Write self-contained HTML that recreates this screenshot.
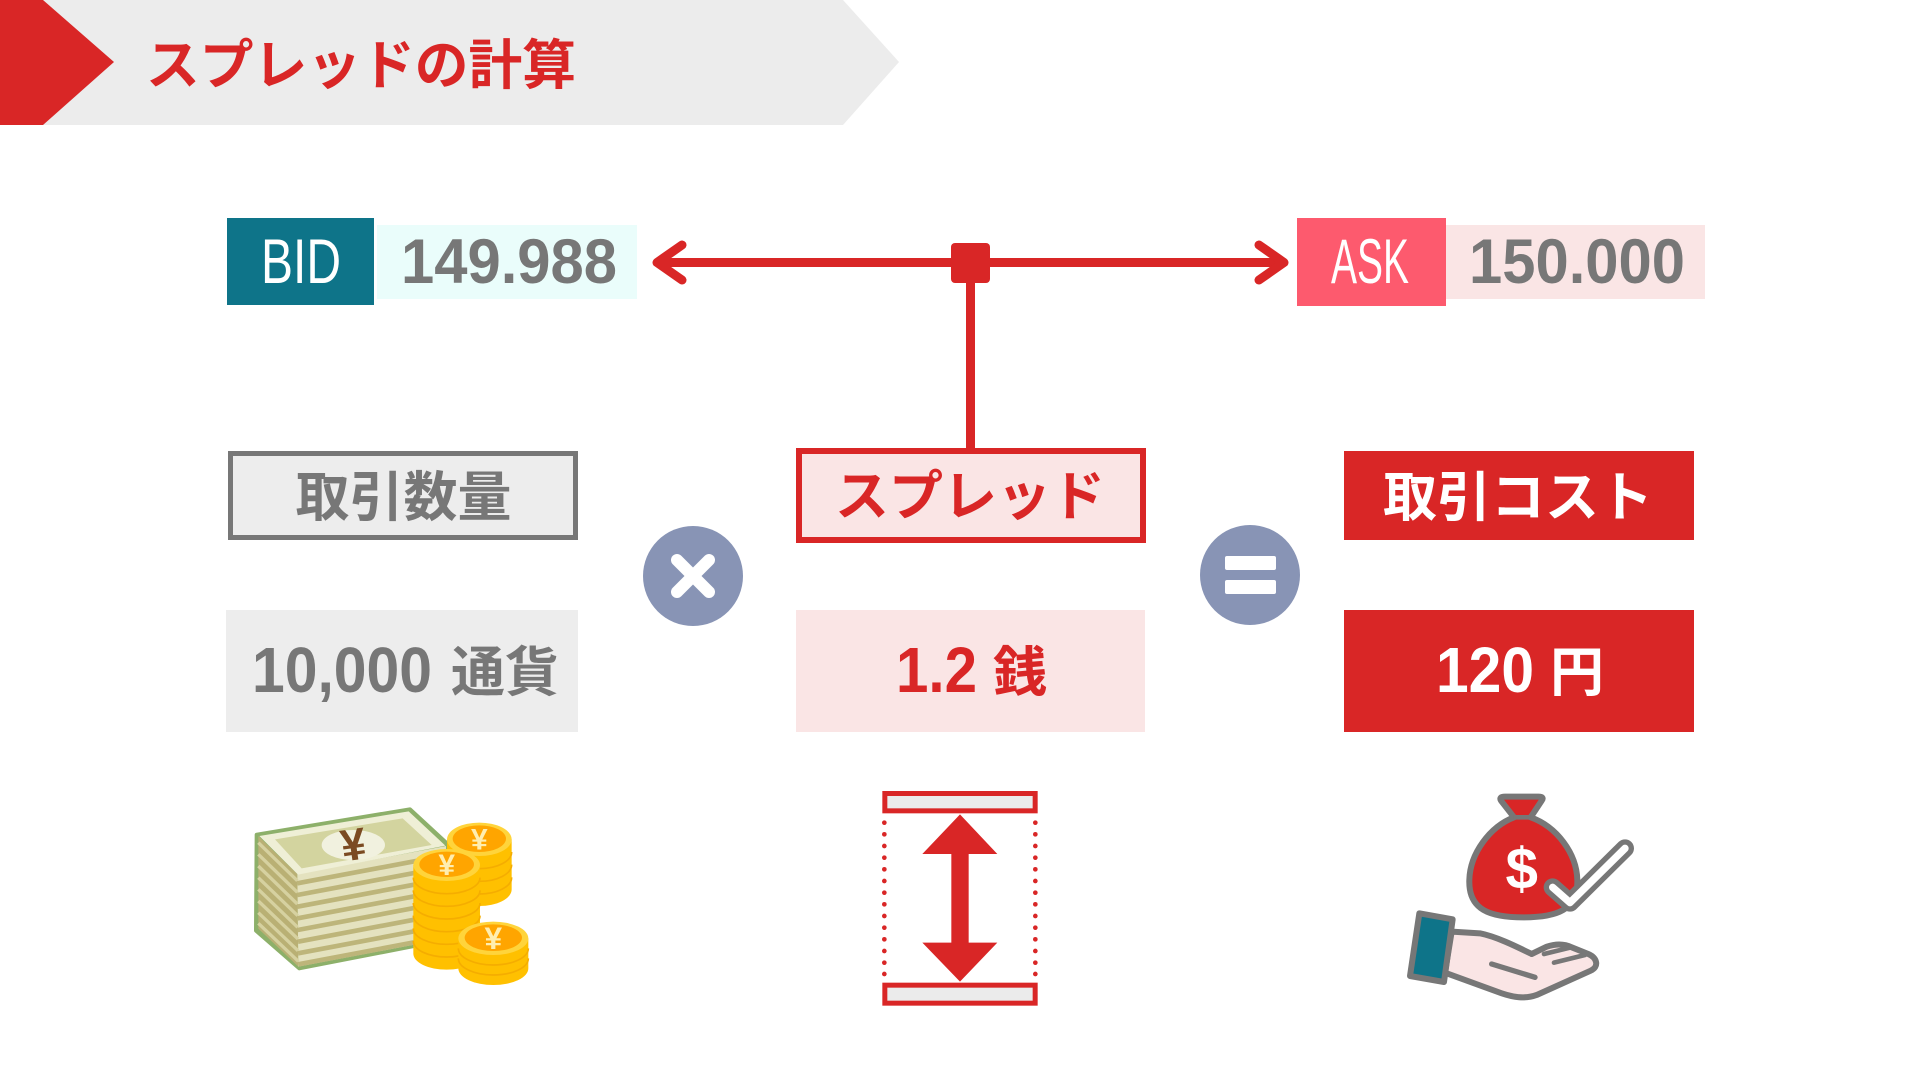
<!DOCTYPE html>
<html><head><meta charset="utf-8"><style>
html,body{margin:0;padding:0;background:#fff;width:1920px;height:1080px;overflow:hidden}
svg{display:block}
text{font-family:"Liberation Sans","Noto Sans CJK JP",sans-serif}
.jp{font-family:"Liberation Sans","Noto Sans CJK JP",sans-serif;font-weight:700}
</style></head><body>
<svg width="1920" height="1080" viewBox="0 0 1920 1080" xmlns="http://www.w3.org/2000/svg">
<!-- header -->
<polygon points="0,0 843,0 899,62 843,125 0,125" fill="#ececec"/>
<polygon points="0,0 43,0 114,62 43,125 0,125" fill="#d92626"/>
<text class="jp" x="146" y="84" font-size="54" fill="#d92626" textLength="430" lengthAdjust="spacingAndGlyphs">スプレッドの計算</text>

<!-- BID -->
<rect x="227" y="218" width="147" height="87" fill="#0e7489"/>
<text x="301" y="283" font-size="63" fill="#fff" text-anchor="middle" textLength="80" lengthAdjust="spacingAndGlyphs">BID</text>
<rect x="377" y="225" width="260" height="74" fill="#eafdfb"/>
<text x="509" y="283" font-size="63" font-weight="700" fill="#777" text-anchor="middle" textLength="216" lengthAdjust="spacingAndGlyphs">149.988</text>

<!-- ASK -->
<rect x="1297" y="218" width="149" height="88" fill="#fd5a6e"/>
<text x="1370" y="283" font-size="63" fill="#fff" text-anchor="middle" textLength="78" lengthAdjust="spacingAndGlyphs">ASK</text>
<rect x="1446" y="225" width="259" height="74" fill="#fae5e5"/>
<text x="1577" y="283" font-size="63" font-weight="700" fill="#777" text-anchor="middle" textLength="216" lengthAdjust="spacingAndGlyphs">150.000</text>

<!-- connectors -->
<line x1="660" y1="262.5" x2="1281" y2="262.5" stroke="#d92626" stroke-width="9"/>
<polyline points="682,245 657,262.5 682,280" fill="none" stroke="#d92626" stroke-width="9" stroke-linecap="round" stroke-linejoin="round"/>
<polyline points="1259,245 1284,262.5 1259,280" fill="none" stroke="#d92626" stroke-width="9" stroke-linecap="round" stroke-linejoin="round"/>
<line x1="970.5" y1="280" x2="970.5" y2="450" stroke="#d92626" stroke-width="9"/>
<rect x="951" y="243" width="39" height="40" rx="4" fill="#d92626"/>

<!-- row 1 boxes -->
<rect x="230.5" y="453.5" width="345" height="84" fill="#ededed" stroke="#777" stroke-width="5"/>
<text class="jp" x="403.5" y="516" font-size="54" fill="#777" text-anchor="middle">取引数量</text>

<rect x="799" y="451" width="344" height="89" fill="#fae5e5" stroke="#d92626" stroke-width="6"/>
<text class="jp" x="970" y="515" font-size="54" fill="#d92626" text-anchor="middle">スプレッド</text>

<rect x="1344" y="451" width="350" height="89" fill="#d92626"/>
<text class="jp" x="1518" y="516" font-size="54" fill="#fff" text-anchor="middle">取引コスト</text>

<!-- operators -->
<circle cx="693" cy="576" r="50" fill="#8894b5"/>
<line x1="677" y1="560" x2="709" y2="592" stroke="#fff" stroke-width="12" stroke-linecap="round"/>
<line x1="709" y1="560" x2="677" y2="592" stroke="#fff" stroke-width="12" stroke-linecap="round"/>
<circle cx="1250" cy="575" r="50" fill="#8894b5"/>
<rect x="1225" y="556" width="51" height="14" rx="2" fill="#fff"/>
<rect x="1225" y="580" width="51" height="14" rx="2" fill="#fff"/>

<!-- row 2 boxes -->
<rect x="226" y="610" width="352" height="122" fill="#ededed"/>
<text x="252" y="692" font-size="64" font-weight="700" fill="#777" textLength="180" lengthAdjust="spacingAndGlyphs">10,000</text>
<text class="jp" x="451" y="691" font-size="54" fill="#777">通貨</text>

<rect x="796" y="610" width="349" height="122" fill="#fae5e5"/>
<text x="896" y="692" font-size="64" font-weight="700" fill="#d92626" textLength="81" lengthAdjust="spacingAndGlyphs">1.2</text>
<text class="jp" x="993" y="691" font-size="54" fill="#d92626">銭</text>

<rect x="1344" y="610" width="350" height="122" fill="#d92626"/>
<text x="1436" y="692" font-size="64" font-weight="700" fill="#fff" textLength="98" lengthAdjust="spacingAndGlyphs">120</text>
<text class="jp" x="1550" y="691" font-size="54" fill="#fff">円</text>

<!-- money stack icon -->
<g transform="translate(240,800) scale(0.33333)">
  <polygon points="50,104 510,28 625,134 625,418 178,505 48,392" fill="#8db06a" stroke="#8db06a" stroke-width="12" stroke-linejoin="round"/>
  <polygon points="55,108 172,222 175,500 55,386" fill="#b9b074"/>
  <polygon points="172,222 618,138 618,416 175,500" fill="#e4e2bf"/>
  <g stroke="#bdb57a" stroke-width="14">
    <line x1="172" y1="250" x2="618" y2="166"/>
    <line x1="172" y1="285" x2="618" y2="201"/>
    <line x1="172" y1="320" x2="618" y2="236"/>
    <line x1="173" y1="355" x2="618" y2="271"/>
    <line x1="173" y1="390" x2="618" y2="306"/>
    <line x1="174" y1="425" x2="618" y2="341"/>
    <line x1="174" y1="460" x2="618" y2="376"/>
    <line x1="175" y1="493" x2="618" y2="409"/>
  </g>
  <g stroke="#d6d1a0" stroke-width="10">
    <line x1="55" y1="128" x2="172" y2="242"/>
    <line x1="55" y1="163" x2="172" y2="277"/>
    <line x1="55" y1="198" x2="172" y2="312"/>
    <line x1="55" y1="233" x2="173" y2="347"/>
    <line x1="55" y1="268" x2="173" y2="382"/>
    <line x1="55" y1="303" x2="174" y2="417"/>
    <line x1="55" y1="338" x2="174" y2="452"/>
    <line x1="55" y1="370" x2="175" y2="484"/>
  </g>
  <polygon points="58,108 506,34 616,137 174,224" fill="#efefd6"/>
  <polygon points="105,118 488,55 575,135 185,205" fill="#d3d49f"/>
  <ellipse cx="340" cy="135" rx="95" ry="45" fill="#f1f1df"/>
  <text x="340" y="180" font-size="135" font-weight="700" fill="#7b4a22" text-anchor="middle" transform="rotate(-8 340 135)">¥</text>
</g>
<!-- coins -->
<g transform="translate(240,800) scale(0.33333)">
  <g>
    <path d="M621,118 L621,268 A97,50 0 0 0 815,268 L815,118 Z" fill="#ffc000"/>
    <path d="M621,156 A97,50 0 0 0 815,156 M621,194 A97,50 0 0 0 815,194 M621,232 A97,50 0 0 0 815,232" fill="none" stroke="#f5ad00" stroke-width="5"/>
    <ellipse cx="718" cy="118" rx="97" ry="50" fill="#ffd43b"/>
    <ellipse cx="718" cy="116" rx="80" ry="40" fill="#ffa500"/>
    <text x="718" y="148" font-size="90" font-weight="700" fill="#ffeeb0" text-anchor="middle">¥</text>
  </g>
  <g>
    <path d="M520,195 L520,461 A100,48 0 0 0 720,461 L720,195 Z" fill="#ffc000"/>
    <path d="M520,233 A100,48 0 0 0 720,233 M520,271 A100,48 0 0 0 720,271 M520,309 A100,48 0 0 0 720,309 M520,347 A100,48 0 0 0 720,347 M520,385 A100,48 0 0 0 720,385 M520,423 A100,48 0 0 0 720,423" fill="none" stroke="#f5ad00" stroke-width="5"/>
    <ellipse cx="620" cy="195" rx="100" ry="48" fill="#ffd43b"/>
    <ellipse cx="620" cy="193" rx="82" ry="38" fill="#ffa500"/>
    <text x="620" y="225" font-size="90" font-weight="700" fill="#ffeeb0" text-anchor="middle">¥</text>
  </g>
  <g>
    <path d="M655,415 L655,505 A105,50 0 0 0 865,505 L865,415 Z" fill="#ffc000"/>
    <path d="M655,445 A105,50 0 0 0 865,445 M655,475 A105,50 0 0 0 865,475" fill="none" stroke="#f5ad00" stroke-width="5"/>
    <ellipse cx="760" cy="415" rx="105" ry="50" fill="#ffd43b"/>
    <ellipse cx="760" cy="413" rx="86" ry="40" fill="#ffa500"/>
    <text x="760" y="447" font-size="95" font-weight="700" fill="#ffeeb0" text-anchor="middle">¥</text>
  </g>
</g>

<!-- spread icon -->
<g transform="translate(870,780) scale(0.33333)">
  <rect x="37" y="33" width="466" height="67" fill="#d92626"/>
  <rect x="52" y="48" width="436" height="37" fill="#ebebeb"/>
  <rect x="37" y="608" width="466" height="69" fill="#d92626"/>
  <rect x="52" y="623" width="436" height="39" fill="#ebebeb"/>
  <g fill="#d92626">
    <circle cx="43" cy="128" r="7"/><circle cx="43" cy="163" r="7"/><circle cx="43" cy="198" r="7"/><circle cx="43" cy="233" r="7"/><circle cx="43" cy="268" r="7"/><circle cx="43" cy="303" r="7"/><circle cx="43" cy="338" r="7"/><circle cx="43" cy="373" r="7"/><circle cx="43" cy="408" r="7"/><circle cx="43" cy="443" r="7"/><circle cx="43" cy="478" r="7"/><circle cx="43" cy="513" r="7"/><circle cx="43" cy="548" r="7"/><circle cx="43" cy="582" r="7"/>
    <circle cx="496" cy="128" r="7"/><circle cx="496" cy="163" r="7"/><circle cx="496" cy="198" r="7"/><circle cx="496" cy="233" r="7"/><circle cx="496" cy="268" r="7"/><circle cx="496" cy="303" r="7"/><circle cx="496" cy="338" r="7"/><circle cx="496" cy="373" r="7"/><circle cx="496" cy="408" r="7"/><circle cx="496" cy="443" r="7"/><circle cx="496" cy="478" r="7"/><circle cx="496" cy="513" r="7"/><circle cx="496" cy="548" r="7"/><circle cx="496" cy="582" r="7"/>
  </g>
  <polygon points="270,103 382,222 296,222 296,488 382,488 270,605 157,488 244,488 244,222 157,222" fill="#d92626"/>
</g>

<!-- money bag & hand icon -->
<g transform="translate(1390,780) scale(0.33333)">
  <path d="M372,112 L333,62 Q326,50 345,50 L445,50 Q464,50 455,62 L422,112 C500,140 560,220 562,300 C565,390 500,412 400,412 C300,412 235,390 238,300 C240,220 300,140 372,112 Z" fill="#d92626" stroke="#777" stroke-width="18" stroke-linejoin="round"/>
  <line x1="372" y1="112" x2="422" y2="112" stroke="#777" stroke-width="14"/>
  <text x="395" y="325" font-size="175" font-weight="700" fill="#fff" text-anchor="middle">$</text>
  <polyline points="488,322 540,368 705,205" fill="none" stroke="#777" stroke-width="54" stroke-linecap="round" stroke-linejoin="round"/>
  <polyline points="488,322 540,368 705,205" fill="none" stroke="#fff" stroke-width="22" stroke-linecap="round" stroke-linejoin="round"/>
  <path d="M185,455 L270,460 C320,470 380,500 425,522 L470,500 C500,490 525,492 545,502 L595,522 C622,534 628,560 602,572 L440,645 C405,658 370,652 335,640 L165,578 Z" fill="#fae5e5" stroke="#777" stroke-width="18" stroke-linejoin="round"/>
  <path d="M305,552 L435,592" fill="none" stroke="#777" stroke-width="16" stroke-linecap="round"/>
  <path d="M492,548 L585,525" fill="none" stroke="#777" stroke-width="14" stroke-linecap="round"/>
  <path d="M462,522 L540,503" fill="none" stroke="#777" stroke-width="14" stroke-linecap="round"/>
  <polygon points="88,400 188,418 162,606 60,588" fill="#0e7489" stroke="#777" stroke-width="18" stroke-linejoin="round"/>
</g>
</svg>
</body></html>
